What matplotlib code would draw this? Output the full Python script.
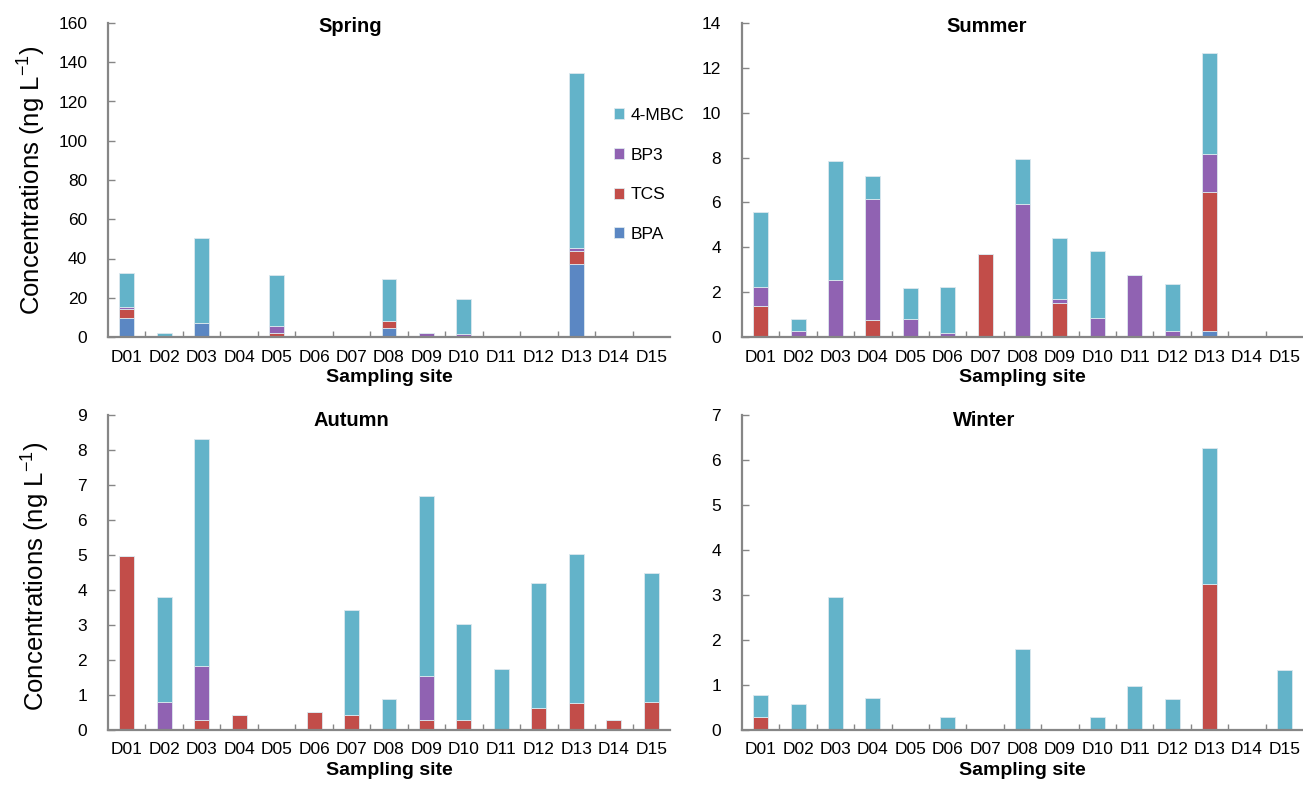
import matplotlib.pyplot as plt
import numpy as np

plt.rcParams['font.family'] = ['Liberation Sans', 'DejaVu Sans']
plt.rcParams['mathtext.fontset'] = 'custom'
plt.rcParams['mathtext.rm'] = 'Liberation Sans'

sites = ['D%02d' % i for i in range(1, 16)]
compounds = ['BPA', 'TCS', 'BP3', '4-MBC']
colors = ['#5B87C3', '#C24D49', '#9062B2', '#63B3C9']

# values per season: BPA, TCS, BP3, 4-MBC  (ng/L)
spring_bpa = [9.8, 0, 7.2, 0, 0, 0, 0, 4.8, 0, 0, 0, 0, 37.2, 0, 0]
spring_tcs = [4.7, 0, 0, 0, 1.8, 0, 0, 3.1, 0, 0, 0, 0, 6.6, 0, 0]
spring_bp3 = [0.7, 0, 0, 0, 3.7, 0, 0.6, 0.5, 2.1, 1.5, 0, 0, 1.5, 0, 0]
spring_mbc = [17.4, 1.8, 43.3, 0, 26.0, 0, 0, 21.2, 0, 18.1, 0, 0, 89.2, 0, 0]

summer_bpa = [0, 0, 0, 0, 0, 0, 0, 0, 0, 0, 0, 0, 0.25, 0, 0]
summer_tcs = [1.4, 0, 0, 0.75, 0, 0, 3.68, 0, 1.5, 0, 0, 0, 6.2, 0, 0]
summer_bp3 = [0.85, 0.25, 2.55, 5.4, 0.8, 0.2, 0, 5.95, 0.2, 0.85, 2.78, 0.25, 1.7, 0, 0]
summer_mbc = [3.33, 0.57, 5.3, 1.05, 1.37, 2.05, 0, 1.97, 2.72, 3.0, 0, 2.12, 4.5, 0, 0]

autumn_bpa = [0] * 15
autumn_tcs = [4.98, 0, 0.3, 0.42, 0, 0.52, 0.42, 0, 0.3, 0.28, 0, 0.64, 0.76, 0.3, 0.81]
autumn_bp3 = [0, 0.8, 1.52, 0, 0, 0, 0, 0, 1.24, 0, 0, 0, 0, 0, 0]
autumn_mbc = [0, 3.0, 6.48, 0, 0, 0, 3.0, 0.89, 5.15, 2.75, 1.73, 3.55, 4.27, 0, 3.67]

winter_bpa = [0] * 15
winter_tcs = [0.3, 0, 0, 0, 0, 0, 0, 0, 0, 0, 0, 0, 3.25, 0, 0]
winter_bp3 = [0] * 15
winter_mbc = [0.47, 0.58, 2.95, 0.71, 0, 0.3, 0, 1.8, 0, 0.3, 0.97, 0.68, 3.01, 0, 1.34]

seasons = [
    ('Spring', [spring_bpa, spring_tcs, spring_bp3, spring_mbc], 160, 20),
    ('Summer', [summer_bpa, summer_tcs, summer_bp3, summer_mbc], 14, 2),
    ('Autumn', [autumn_bpa, autumn_tcs, autumn_bp3, autumn_mbc], 9, 1),
    ('Winter', [winter_bpa, winter_tcs, winter_bp3, winter_mbc], 7, 1),
]

W, H = 1303, 786
fig = plt.figure(figsize=(W / 100, H / 100), dpi=100)

# axes boxes in pixels: left, top(y of ymax), right, y of zero
boxes = [(108, 23, 670, 337), (742, 23, 1303, 337),
         (108, 415, 670, 730), (742, 415, 1303, 730)]
title_x = [350, 987, 351, 984]
title_y = [27, 27, 421, 421]

spine_c = '#868686'
x = np.arange(len(sites))
axes = []
for (name, data, ymax, step), (l, t, r, b), tx, ty in zip(seasons, boxes, title_x, title_y):
    ax = fig.add_axes([l / W, 1 - b / H, (r - l) / W, (b - t) / H])
    bottom = np.zeros(len(sites))
    for vals, c, lab in zip(data, colors, compounds):
        ax.bar(x, vals, 0.4, bottom=bottom, color=c, edgecolor='#dde8ee',
               linewidth=0.6, label=lab)
        bottom += np.array(vals)
    ax.set_xlim(-0.5, len(sites) - 0.5)
    ax.set_ylim(0, ymax)
    ax.set_yticks(np.arange(0, ymax + step / 2, step))
    ax.set_xticks(x)
    ax.set_xticklabels(sites)
    ax.set_xticks(np.arange(0.5, len(sites) - 0.5, 1), minor=True)
    ax.tick_params(axis='x', which='major', length=0, labelsize=12.5, pad=9)
    ax.tick_params(axis='x', which='minor', direction='in', length=4,
                   color=spine_c, width=1)
    ax.tick_params(axis='y', direction='in', length=5, color=spine_c,
                   width=1, labelsize=12.5, pad=15)
    for s in ['top', 'right']:
        ax.spines[s].set_visible(False)
    for s in ['left', 'bottom']:
        ax.spines[s].set_color(spine_c)
        ax.spines[s].set_linewidth(1.6)
    ax.text((tx - l) / (r - l), (b - ty) / (b - t), name, transform=ax.transAxes,
            ha='center', va='center', fontsize=14.5, fontweight='bold')
    ax.set_xlabel('Sampling site', fontsize=14, fontweight='bold', labelpad=3)
    axes.append(ax)

ylab = 'Concentrations (ng L$^{-1}$)'
fig.text(31 / W, 1 - 180 / H, ylab, rotation=90, ha='center', va='center', fontsize=18.5)
fig.text(35 / W, 1 - 576 / H, ylab, rotation=90, ha='center', va='center', fontsize=18.5)

h, lb = axes[0].get_legend_handles_labels()
axes[0].legend(h[::-1], lb[::-1], loc='upper left',
               bbox_to_anchor=((614 - 108) / 562, (337 - 108) / 314),
               frameon=False, fontsize=12.5, handlelength=0.6, handleheight=0.6,
               handletextpad=0.35, labelspacing=1.42, borderpad=0, borderaxespad=0)

fig.savefig('out.png', dpi=100)
